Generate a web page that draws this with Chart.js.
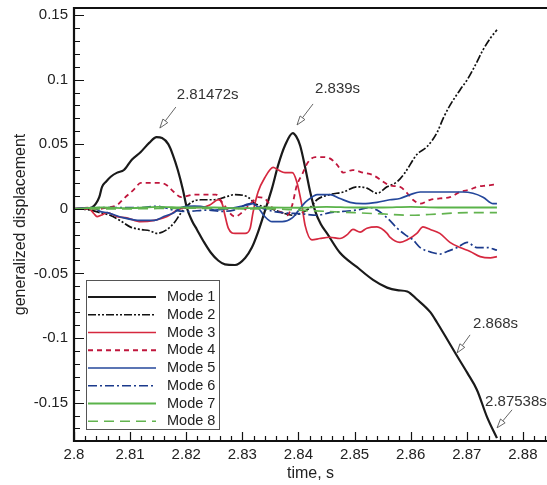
<!DOCTYPE html>
<html>
<head>
<meta charset="utf-8">
<script src="https://cdn.jsdelivr.net/npm/chart.js@4.4.0/dist/chart.umd.min.js"></script>
<style>
  html, body { margin: 0; padding: 0; background: #fff; }
</style>
</head>
<body>
<canvas id="modesChart" width="547" height="485"></canvas>
<script>
// Tick labels of the two axes
var xTicks = [2.8, 2.81, 2.82, 2.83, 2.84, 2.85, 2.86, 2.87, 2.88];
var yTicks = [-0.15, -0.1, -0.05, 0, 0.05, 0.1, 0.15];

var modeLabels = ['Mode 1', 'Mode 2', 'Mode 3', 'Mode 4', 'Mode 5', 'Mode 6', 'Mode 7', 'Mode 8'];

// Mode 1
var mode1Time = [2.8, 2.802, 2.8032, 2.8039, 2.8045, 2.805, 2.8057, 2.8066, 2.8077, 2.8089, 2.8103, 2.8119, 2.8134, 2.81472, 2.8157, 2.8168, 2.8176, 2.8185, 2.8194, 2.8201, 2.821, 2.8219, 2.8232, 2.8244, 2.8257, 2.8269, 2.8287, 2.8305, 2.8317, 2.8328, 2.834, 2.8353, 2.8364, 2.8376, 2.839, 2.8396, 2.8403, 2.8412, 2.8421, 2.843, 2.844, 2.8451, 2.8474, 2.8504, 2.8533, 2.8558, 2.8576, 2.8594, 2.8611, 2.8635, 2.8647, 2.8665, 2.868, 2.8701, 2.8718, 2.8736, 2.87538];
var mode1Disp = [0, 0, 0.001, 0.004, 0.009, 0.017, 0.021, 0.025, 0.028, 0.030, 0.038, 0.044, 0.051, 0.0555, 0.0548, 0.050, 0.042, 0.030, 0.015, 0.001, -0.009, -0.016, -0.026, -0.034, -0.040, -0.043, -0.0435, -0.038, -0.030, -0.018, -0.002, 0.016, 0.034, 0.049, 0.0586, 0.056, 0.049, 0.032, 0.013, -0.002, -0.012, -0.019, -0.034, -0.045, -0.055, -0.061, -0.063, -0.064, -0.070, -0.080, -0.088, -0.101, -0.112, -0.127, -0.140, -0.161, -0.1775];

// Mode 2
var mode2Time = [2.8, 2.8029, 2.8046, 2.8064, 2.8082, 2.81, 2.8119, 2.8135, 2.8148, 2.8166, 2.818, 2.8191, 2.8209, 2.8226, 2.825, 2.8269, 2.8287, 2.831, 2.8323, 2.8346, 2.8371, 2.8389, 2.8406, 2.8421, 2.8433, 2.8456, 2.848, 2.8504, 2.8522, 2.854, 2.8558, 2.8576, 2.859, 2.8611, 2.8629, 2.8647, 2.8658, 2.867, 2.8688, 2.8701, 2.8715, 2.8729, 2.8742, 2.87538];
var mode2Disp = [0, -0.001, -0.003, -0.005, -0.009, -0.014, -0.016, -0.017, -0.019, -0.016, -0.010, -0.003, 0.005, 0.007, 0.007, 0.009, 0.011, 0.009, 0.004, 0.001, -0.003, -0.005, -0.003, 0.001, 0.007, 0.011, 0.013, 0.017, 0.016, 0.012, 0.017, 0.021, 0.028, 0.042, 0.048, 0.059, 0.070, 0.080, 0.092, 0.100, 0.111, 0.123, 0.132, 0.1385];

// Mode 3
var mode3Time = [2.8, 2.8025, 2.803, 2.8036, 2.8041, 2.8048, 2.8059, 2.8077, 2.8094, 2.8119, 2.8143, 2.8166, 2.8184, 2.8201, 2.8226, 2.8242, 2.8257, 2.8264, 2.8269, 2.8275, 2.8287, 2.8305, 2.8314, 2.8319, 2.8328, 2.834, 2.8355, 2.8364, 2.8376, 2.8389, 2.8397, 2.8406, 2.8412, 2.8424, 2.8438, 2.8456, 2.8474, 2.8487, 2.8497, 2.851, 2.8522, 2.854, 2.8558, 2.8563, 2.8581, 2.8594, 2.8611, 2.8622, 2.8635, 2.8652, 2.867, 2.8688, 2.8706, 2.8724, 2.8742, 2.87538];
var mode3Disp = [0, 0.001, -0.001, -0.004, -0.006, -0.005, -0.003, -0.006, -0.007, -0.010, -0.009, -0.006, -0.001, 0.001, 0.001, 0.003, 0.007, 0.004, -0.005, -0.015, -0.019, -0.019, -0.015, -0.003, 0.013, 0.024, 0.032, 0.030, 0.028, 0.028, 0.021, 0.003, -0.013, -0.024, -0.023, -0.022, -0.023, -0.020, -0.016, -0.018, -0.015, -0.014, -0.019, -0.022, -0.026, -0.024, -0.019, -0.014, -0.016, -0.019, -0.026, -0.030, -0.033, -0.037, -0.038, -0.037];

// Mode 4
var mode4Time = [2.8, 2.8046, 2.8059, 2.8077, 2.8089, 2.8107, 2.8119, 2.8137, 2.8155, 2.8166, 2.8178, 2.8191, 2.8214, 2.8237, 2.8253, 2.8264, 2.8287, 2.8299, 2.8317, 2.8328, 2.834, 2.8353, 2.8371, 2.838, 2.8389, 2.8397, 2.8406, 2.8417, 2.843, 2.8442, 2.8456, 2.8469, 2.848, 2.8497, 2.8515, 2.8533, 2.8551, 2.8563, 2.8581, 2.8594, 2.8604, 2.8617, 2.8635, 2.8652, 2.867, 2.8688, 2.8706, 2.8718, 2.8736, 2.87538];
var mode4Disp = [0, 0, 0.001, 0.003, 0.008, 0.015, 0.020, 0.020, 0.020, 0.018, 0.013, 0.009, 0.011, 0.011, 0.011, 0.005, -0.006, -0.003, 0.005, 0.009, 0.008, 0.001, -0.003, -0.005, 0.003, 0.018, 0.026, 0.036, 0.040, 0.040, 0.039, 0.034, 0.028, 0.030, 0.028, 0.026, 0.021, 0.018, 0.017, 0.012, 0.007, 0.004, 0.007, 0.008, 0.009, 0.013, 0.015, 0.017, 0.018, 0.019];

// Mode 5
var mode5Time = [2.8, 2.8036, 2.8046, 2.8059, 2.8089, 2.8119, 2.8143, 2.816, 2.8178, 2.8191, 2.8214, 2.8237, 2.8251, 2.8269, 2.8287, 2.831, 2.8319, 2.8328, 2.834, 2.8353, 2.8371, 2.8389, 2.8399, 2.8412, 2.8424, 2.8433, 2.8456, 2.8474, 2.8492, 2.8515, 2.854, 2.8563, 2.8581, 2.8599, 2.8617, 2.8635, 2.8665, 2.8693, 2.8711, 2.8729, 2.8747, 2.87538];
var mode5Disp = [0, 0.001, -0.002, -0.003, -0.007, -0.009, -0.009, -0.006, -0.003, 0.001, 0.002, 0.001, -0.001, 0, 0.001, 0.003, 0.004, 0.001, -0.006, -0.010, -0.010, -0.007, -0.002, 0.005, 0.009, 0.011, 0.011, 0.008, 0.005, 0.004, 0.005, 0.007, 0.008, 0.011, 0.013, 0.013, 0.013, 0.013, 0.012, 0.009, 0.004, 0.004];

// Mode 6
var mode6Time = [2.8, 2.8059, 2.8119, 2.8148, 2.8178, 2.8201, 2.8237, 2.8262, 2.8285, 2.8314, 2.8323, 2.8332, 2.8355, 2.8371, 2.8408, 2.8433, 2.8456, 2.848, 2.8504, 2.8528, 2.854, 2.8558, 2.8576, 2.859, 2.8604, 2.8617, 2.864, 2.8652, 2.8665, 2.8683, 2.8701, 2.8718, 2.8736, 2.87538];
var mode6Disp = [0, 0.001, 0.001, 0.002, -0.001, -0.002, -0.001, -0.002, -0.001, 0.004, 0.003, 0.001, -0.002, -0.003, -0.004, -0.005, -0.003, -0.002, -0.001, 0.001, -0.001, -0.007, -0.015, -0.020, -0.024, -0.030, -0.034, -0.035, -0.033, -0.030, -0.026, -0.030, -0.030, -0.032];

// Mode 7
var mode7Time = [2.8, 2.805, 2.81, 2.815, 2.82, 2.825, 2.83, 2.835, 2.84, 2.845, 2.85, 2.855, 2.86, 2.865, 2.87, 2.87538];
var mode7Disp = [0, 0.001, 0.0005, 0.0015, 0.001, 0.001, 0.0005, 0.001, 0.0008, 0.0015, 0.001, 0.001, 0.0015, 0.001, 0.001, 0.001];

// Mode 8
var mode8Time = [2.8, 2.81, 2.82, 2.83, 2.835, 2.84, 2.845, 2.85, 2.855, 2.86, 2.865, 2.87, 2.87538];
var mode8Disp = [0, 0, 0.0005, 0, 0, -0.001, -0.002, -0.003, -0.004, -0.005, -0.004, -0.003, -0.003];

// Arrows pointing at the curve, with their text
var noteLabels = ['2.81472s', '2.839s', '2.868s', '2.87538s'];
var noteTime = [2.8153, 2.83975, 2.86827, 2.8754];
var noteDisp = [0.0625, 0.0649, -0.1115, -0.1695];

var fontName = '"Liberation Sans", Arial, Helvetica, sans-serif';

function toPoints(times, values) {
    var pts = [];
    for (var i = 0; i < times.length; i++) {
        pts.push({ x: times[i], y: values[i] });
    }
    return pts;
}

var seriesStyle = [
    { color: '#1a1a1a', width: 2.2, dash: [] },
    { color: '#111111', width: 1.7, dash: [8, 2, 2, 2, 2, 2] },
    { color: '#d6283f', width: 1.7, dash: [] },
    { color: '#c0163c', width: 1.8, dash: [5, 4] },
    { color: '#24479b', width: 1.7, dash: [] },
    { color: '#1b3a8c', width: 1.7, dash: [9, 3, 2, 3] },
    { color: '#5ab34a', width: 1.8, dash: [] },
    { color: '#62b34f', width: 1.7, dash: [10, 6] }
];

var allTimes = [mode1Time, mode2Time, mode3Time, mode4Time, mode5Time, mode6Time, mode7Time, mode8Time];
var allDisp = [mode1Disp, mode2Disp, mode3Disp, mode4Disp, mode5Disp, mode6Disp, mode7Disp, mode8Disp];

var datasets = [];
for (var i = 0; i < modeLabels.length; i++) {
    datasets.push({
        label: modeLabels[i],
        data: toPoints(allTimes[i], allDisp[i]),
        borderColor: seriesStyle[i].color,
        borderWidth: seriesStyle[i].width,
        borderDash: seriesStyle[i].dash,
        fill: false,
        pointRadius: 0,
        order: modeLabels.length - i
    });
}

// Axis frame with inward ticks
var framePlugin = {
    id: 'frame',
    afterDatasetsDraw: function(chart) {
        var ctx = chart.ctx;
        var a = chart.chartArea;
        var xs = chart.scales.x;
        var ys = chart.scales.y;
        ctx.save();
        ctx.strokeStyle = '#111';
        ctx.lineWidth = 1.2;
        ctx.beginPath();
        for (var k = 0; ; k++) {
            var v = 2.8 + k * 0.002;
            if (v > xs.max) break;
            var px = Math.round(xs.getPixelForValue(v)) + 0.5;
            var len = (k % 5 === 0) ? 9 : 5;
            ctx.moveTo(px, a.bottom);
            ctx.lineTo(px, a.bottom - len);
        }
        for (var j = -17; j <= 15; j++) {
            var py = Math.round(ys.getPixelForValue(j / 100)) + 0.5;
            var l2 = (j % 5 === 0) ? 10 : 6;
            ctx.moveTo(a.left, py);
            ctx.lineTo(a.left + l2, py);
        }
        ctx.stroke();
        ctx.lineWidth = 2.2;
        ctx.beginPath();
        ctx.moveTo(a.right, a.top);
        ctx.lineTo(a.left, a.top);
        ctx.lineTo(a.left, a.bottom);
        ctx.lineTo(a.right, a.bottom);
        ctx.stroke();
        ctx.restore();
    }
};

// Legend box inside the plot
var legendPlugin = {
    id: 'boxLegend',
    afterDatasetsDraw: function(chart) {
        var ctx = chart.ctx;
        var a = chart.chartArea;
        var left = a.left + 12;
        var top = a.bottom - 161;
        ctx.save();
        ctx.fillStyle = '#fff';
        ctx.fillRect(left, top, 133, 149);
        ctx.strokeStyle = '#555';
        ctx.lineWidth = 1;
        ctx.strokeRect(left + 0.5, top + 0.5, 133, 149);
        ctx.font = '14.5px ' + fontName;
        ctx.textBaseline = 'middle';
        ctx.textAlign = 'left';
        chart.data.datasets.forEach(function(ds, i) {
            var y = top + 17 + i * 17.75;
            ctx.strokeStyle = ds.borderColor;
            ctx.lineWidth = ds.borderWidth;
            ctx.setLineDash(ds.borderDash);
            ctx.beginPath();
            ctx.moveTo(left + 2, y);
            ctx.lineTo(left + 70, y);
            ctx.stroke();
            ctx.setLineDash([]);
            ctx.fillStyle = '#222';
            ctx.fillText(ds.label, left + 81, y);
        });
        ctx.restore();
    }
};

// Time labels with hollow arrows
var notePlugin = {
    id: 'notes',
    afterDatasetsDraw: function(chart) {
        var ctx = chart.ctx;
        var xs = chart.scales.x;
        var ys = chart.scales.y;
        var textOffset = [[17, -33], [18, -36], [16, -29], [-12, -26]];
        var tailOffset = [[16, -21], [16, -21], [13, -18], [15, -18]];
        ctx.save();
        ctx.font = '15px ' + fontName;
        ctx.textBaseline = 'middle';
        ctx.textAlign = 'left';
        for (var i = 0; i < noteLabels.length; i++) {
            var tx = xs.getPixelForValue(noteTime[i]);
            var ty = ys.getPixelForValue(noteDisp[i]);
            var sx = tx + tailOffset[i][0];
            var sy = ty + tailOffset[i][1];
            var ang = Math.atan2(ty - sy, tx - sx);
            var hx = tx - 9 * Math.cos(ang);
            var hy = ty - 9 * Math.sin(ang);
            ctx.strokeStyle = '#555';
            ctx.lineWidth = 0.9;
            ctx.beginPath();
            ctx.moveTo(sx, sy);
            ctx.lineTo(hx, hy);
            ctx.stroke();
            ctx.beginPath();
            ctx.moveTo(tx, ty);
            ctx.lineTo(hx + 3 * Math.sin(ang), hy - 3 * Math.cos(ang));
            ctx.lineTo(hx - 3 * Math.sin(ang), hy + 3 * Math.cos(ang));
            ctx.closePath();
            ctx.fillStyle = '#fff';
            ctx.fill();
            ctx.stroke();
            ctx.fillStyle = '#333';
            ctx.fillText(noteLabels[i], tx + textOffset[i][0], ty + textOffset[i][1]);
        }
        ctx.restore();
    }
};

var modesChart = new Chart(document.getElementById('modesChart').getContext('2d'), {
    type: 'line',
    data: { datasets: datasets },
    options: {
        responsive: false,
        animation: false,
        layout: { padding: { top: 8, left: 0, right: 0, bottom: 0 } },
        elements: { line: { cubicInterpolationMode: 'monotone' } },
        plugins: { legend: { display: false }, tooltip: { enabled: false } },
        scales: {
            x: {
                type: 'linear',
                min: 2.8,
                max: 2.8843,
                grid: { display: false, drawTicks: false },
                border: { display: false },
                ticks: {
                    padding: 5,
                    color: '#222',
                    maxRotation: 0,
                    autoSkip: false,
                    font: { family: fontName, size: 15 },
                    callback: function(v) { return String(Number(v.toFixed(2))); }
                },
                afterBuildTicks: function(s) { s.ticks = xTicks.map(function(v) { return { value: v }; }); },
                afterFit: function(s) { s.height = 44; s.paddingLeft = 0; s.paddingRight = 0; },
                title: { display: true, text: 'time, s', color: '#222', font: { family: fontName, size: 16 }, padding: { top: 0, bottom: 2 } }
            },
            y: {
                type: 'linear',
                min: -0.1797,
                max: 0.1554,
                grid: { display: false, drawTicks: false },
                border: { display: false },
                ticks: {
                    padding: 6,
                    color: '#222',
                    autoSkip: false,
                    font: { family: fontName, size: 15 },
                    callback: function(v) { return String(Number(v.toFixed(2))); }
                },
                afterBuildTicks: function(s) { s.ticks = yTicks.map(function(v) { return { value: v }; }); },
                afterFit: function(s) { s.width = 74; s.paddingTop = 0; s.paddingBottom = 0; },
                title: { display: true, text: 'generalized displacement', color: '#222', font: { family: fontName, size: 16 }, padding: { top: 11, bottom: 0 } }
            }
        }
    },
    plugins: [framePlugin, legendPlugin, notePlugin]
});
</script>
</body>
</html>
